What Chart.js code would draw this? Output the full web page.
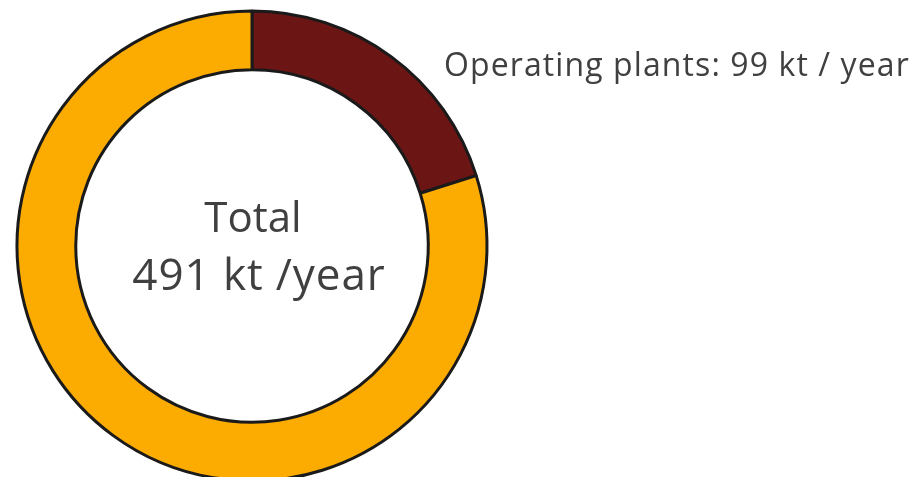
<!DOCTYPE html>
<html>
<head>
<meta charset="utf-8">
<script src="https://cdn.jsdelivr.net/npm/chart.js@4.4.0/dist/chart.umd.min.js"></script>
<style>
  html, body { margin: 0; padding: 0; background: #ffffff; overflow: hidden; }
  #wrap { position: relative; width: 918px; height: 492px; }
</style>
</head>
<body>
<div id="wrap"><canvas id="donut"></canvas></div>
<script>
// chart data
var categories = ['Operating plants', 'Other'];
var values = [99, 392];
var sliceColors = ['#6B1515', '#FCAB00'];
var centerLines = ['Total', '491 kt /year'];
var sliceLabel = 'Operating plants: 99 kt / year';

// draws the total in the hole and the label of the first slice
var textPlugin = {
  id: 'donut_text',
  afterDraw: function(chart) {
    var ctx = chart.ctx;
    var arc = chart.getDatasetMeta(0).data[0];
    ctx.save();
    ctx.fillStyle = '#404040';
    ctx.textAlign = 'center';
    ctx.textBaseline = 'alphabetic';
    ctx.font = '42px "Open Sans", sans-serif';
    ctx.fillText(centerLines[0], arc.x + 1, arc.y - 14);
    ctx.font = '44px "Open Sans", sans-serif';
    ctx.letterSpacing = '0.9px';
    ctx.fillText(centerLines[1], arc.x + 7, arc.y + 44);

    ctx.textAlign = 'left';
    ctx.font = '32px "Open Sans", sans-serif';
    ctx.letterSpacing = '1.1px';
    ctx.fillText(sliceLabel, 444, 76);
    ctx.restore();
  }
};

var ctx = document.getElementById('donut').getContext('2d');
var chart = new Chart(ctx, {
  type: 'doughnut',
  data: {
    labels: categories,
    datasets: [{
      data: values,
      backgroundColor: sliceColors,
      borderColor: '#1a1a1a',
      borderWidth: 3,
      hoverOffset: 0
    }]
  },
  plugins: [textPlugin],
  options: {
    responsive: true,
    maintainAspectRatio: false,
    animation: false,
    radius: 235,
    cutout: '75%',
    layout: {
      padding: { left: 0, right: 414, top: 0, bottom: 0 }
    },
    plugins: {
      legend: { display: false },
      tooltip: { enabled: false }
    }
  }
});
</script>
</body>
</html>
